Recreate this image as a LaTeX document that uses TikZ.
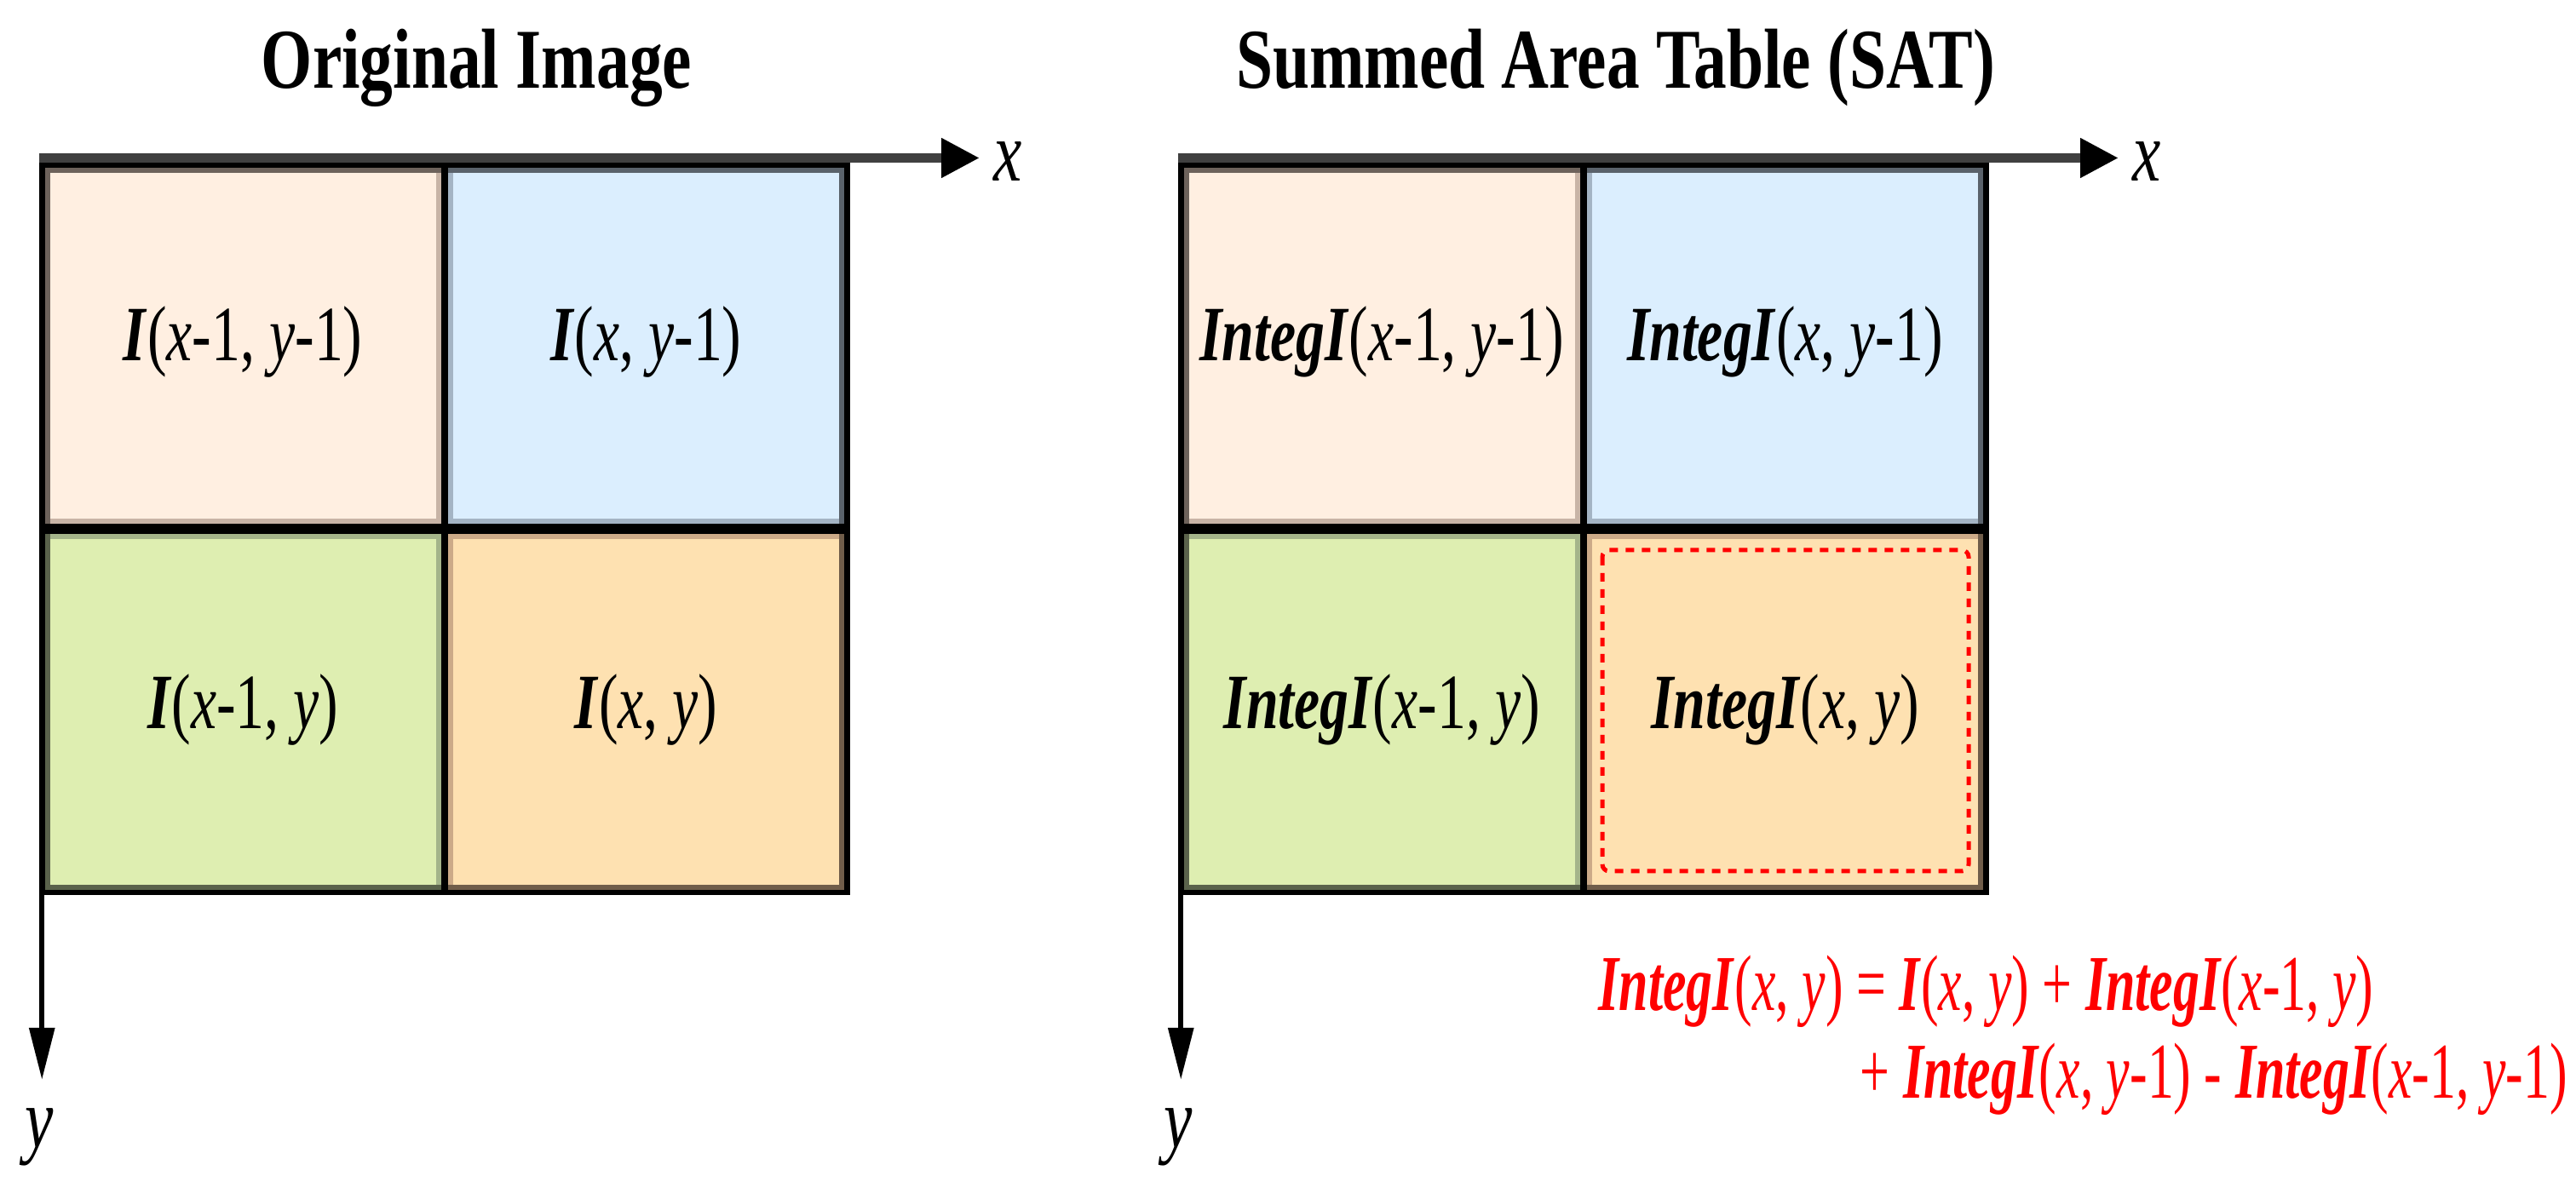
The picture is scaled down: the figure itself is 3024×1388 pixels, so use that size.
\documentclass[tikz,border=0pt]{standalone}
\usepackage{fontspec}
\setmainfont{Liberation Serif}
\usepackage{graphicx}
\usetikzlibrary{arrows.meta}
\definecolor{fTL}{HTML}{FFEFE1}
\definecolor{fTR}{HTML}{DBEEFE}
\definecolor{fBL}{HTML}{DEEEB1}
\definecolor{fBR}{HTML}{FEE1B1}
\definecolor{sTL}{HTML}{C8B4A6}
\definecolor{sTR}{HTML}{A4B4C4}
\definecolor{sBL}{HTML}{A4B48A}
\definecolor{sBR}{HTML}{CCAA88}
\definecolor{axgray}{HTML}{404040}
\newcommand{\sqz}[2]{\scalebox{#1}[1]{#2}}
\newcommand{\bI}[1]{\textbf{\textit{#1}}}
\newcommand{\iv}[1]{\textit{#1}}
\tikzset{
  celltxt/.style={anchor=base, inner sep=0pt, font=\fontsize{23}{27}\selectfont},
  ttl/.style={anchor=base, inner sep=0pt, font=\fontsize{25}{30}\selectfont\bfseries},
  axlbl/.style={anchor=base, inner sep=0pt, font=\fontsize{25}{30}\selectfont\itshape},
  frm/.style={anchor=base west, inner sep=0pt, text=red, font=\fontsize{23.25}{28}\selectfont},
  cellstroke/.style={line width=1.5pt},
  gridline/.style={black, line width=#1},
  xaxis/.style={line width=2.75pt, axgray, -{Triangle[length=11.25pt, width=11pt, color=black, fill=black]}},
  yaxis/.style={line width=1.5pt, black, -{Triangle[length=15.25pt, width=7.25pt]}},
}
\newcommand{\gridpanel}[1]{%
  % cell fills
  \fill[fTL] (52.5,197) rectangle (518,615);
  \fill[fTR] (526,197) rectangle (991,615);
  \fill[fBL] (52.5,627) rectangle (518,1045);
  \fill[fBR] (526,627) rectangle (991,1045);
  % cell strokes
  \draw[cellstroke, sTL] (55.5,200) rectangle (515,612);
  \draw[cellstroke, sTR] (529,200) rectangle (988,612);
  \draw[cellstroke, sBL] (55.5,630) rectangle (515,1042);
  \draw[cellstroke, sBR] (529,630) rectangle (988,1042);
  % darker outer band
  \draw[line width=1.5pt, black, opacity=0.45] (55.5,200) rectangle (988,1042);
  % black grid lines
  \draw[gridline=3pt] (52.5,621) -- (991,621);
  \draw[gridline=2pt] (522,197) -- (522,1045);
  \draw[gridline=1.625pt] (49.25,193.75) rectangle (994.25,1048.25);
  % axes
  \coordinate (#1xo) at (45.5,185.5);
  \coordinate (#1xe) at (1150,185.5);
  \coordinate (#1yo) at (49.25,1051);
  \coordinate (#1ye) at (49.25,1268);
  \draw[xaxis] (#1xo) -- (#1xe);
  \draw[yaxis] (#1yo) -- (#1ye);
  \node[axlbl] (#1xl) at (1183.5,213) {\sqz{0.75}{x}};
  \node[axlbl] (#1yl) at (46,1348) {\sqz{0.75}{y}};
}
\begin{document}
\begin{tikzpicture}[x=0.25pt, y=-0.25pt]
\useasboundingbox[fill=white] (0,0) rectangle (3024,1388);
% ---------- Original image ----------
\begin{scope}
  \gridpanel{o}
  \node[ttl] (otitle) at (559.5,103.6) {\sqz{0.774}{Original Image}};
  \node[celltxt] (oTL) at (285.25,424) {\sqz{0.737}{\bI{I}(\iv{x}-1, \iv{y}-1)}};
  \node[celltxt] (oTR) at (758.5,424) {\sqz{0.737}{\bI{I}(\iv{x}, \iv{y}-1)}};
  \node[celltxt] (oBL) at (285.25,856) {\sqz{0.737}{\bI{I}(\iv{x}-1, \iv{y})}};
  \node[celltxt] (oBR) at (758.5,856) {\sqz{0.737}{\bI{I}(\iv{x}, \iv{y})}};
\end{scope}
% ---------- Summed area table ----------
\begin{scope}[xshift=334.25pt]
  \gridpanel{s}
  \node[ttl] (stitle) at (559.5,103.6) {\sqz{0.774}{Summed Area Table (SAT)}};
  \node[celltxt] (sTL) at (285.25,424) {\sqz{0.737}{\bI{IntegI}(\iv{x}-1, \iv{y}-1)}};
  \node[celltxt] (sTR) at (758.5,424) {\sqz{0.737}{\bI{IntegI}(\iv{x}, \iv{y}-1)}};
  \node[celltxt] (sBL) at (285.25,856) {\sqz{0.737}{\bI{IntegI}(\iv{x}-1, \iv{y})}};
  \node[celltxt] (sBR) at (758.5,856) {\sqz{0.737}{\bI{IntegI}(\iv{x}, \iv{y})}};
  \draw[red, line width=1.25pt, dash pattern=on 2.5pt off 2.25pt, rounded corners=2pt]
    (544,646) rectangle (974,1023);
\end{scope}
% ---------- formula ----------
\node[frm] (f1) at (1876,1187) {\sqz{0.665}{\bI{IntegI}(\iv{x}, \iv{y}) = \bI{I}(\iv{x}, \iv{y}) + \bI{IntegI}(\iv{x}-1, \iv{y})}};
\node[frm] (f2) at (2183,1290) {\sqz{0.665}{+ \bI{IntegI}(\iv{x}, \iv{y}-1) - \bI{IntegI}(\iv{x}-1, \iv{y}-1)}};
\end{tikzpicture}
\end{document}
